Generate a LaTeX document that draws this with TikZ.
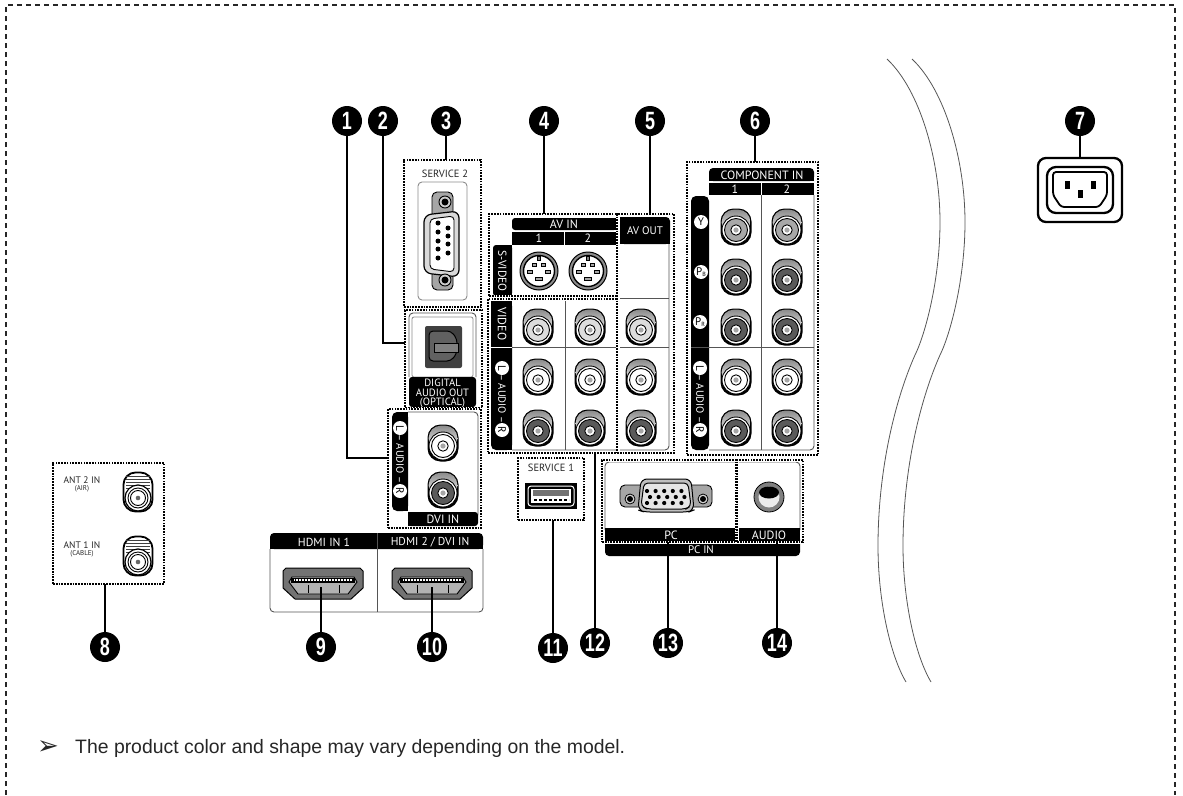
\documentclass[tikz,border=0pt]{standalone}
\usepackage{fontspec}
\setmainfont{PT Sans}
\newfontfamily\notefont{Liberation Sans}
\newfontfamily\tipfont{DejaVu Sans}
\newfontfamily\numfont[FakeStretch=.72]{Liberation Sans}
\usetikzlibrary{positioning}
\definecolor{videogray}{HTML}{DDDDDD}
\definecolor{ygray}{HTML}{A8A8A8}
\definecolor{rgray}{HTML}{5A5A5A}
\definecolor{linegray}{HTML}{555555}
\tikzset{
  numdot/.style={circle,fill=black,text=white,inner sep=0pt,minimum size=30,
    font=\numfont\bfseries\fontsize{25}{25}\selectfont},
  grpbox/.style={draw=black,line width=1.7,dash pattern=on 1.7 off 1.1,inner sep=0pt,outer sep=0pt,
    preaction={draw=white,line width=3,solid}},
  leadline/.style={draw=black,line width=1.6},
  panelline/.style={draw=linegray,line width=.9},
  barlabel/.style={text=white,inner sep=0pt,font=\fontsize{12}{12}\selectfont},
  sidelabel/.style={barlabel,rotate=-90},
  audiolabel/.style={sidelabel,font=\fontsize{10.5}{11}\selectfont},
  letterdot/.style={circle,fill=white,text=black,inner sep=0pt,minimum size=14,font=\fontsize{11}{11}\selectfont},
  porttext/.style={inner sep=0pt,text=black!85,font=\fontsize{10.5}{11}\selectfont},
  anttext/.style={inner sep=0pt,text=black!85,font=\fontsize{9.5}{10}\selectfont},
  smalltext/.style={inner sep=0pt,text=black!85,font=\fontsize{7}{8}\selectfont}
}
\newcommand{\grpnode}[5]{\node[grpbox,minimum width={#4-#2},minimum height={#5-#3}] (#1) at ({(#2+#4)/2},{(#3+#5)/2}) {};}
\newcommand{\rcajack}[3]{
  \begin{scope}[shift={(#1,#2)}]
    \fill[black,rounded corners=13] (-15.5,-18.5) rectangle (15.5,18.5);
    \shade[top color=black!45,bottom color=white,rounded corners=12] (-14.3,-17.3) rectangle (14.3,8);
    \draw[fill=white,line width=.9] (0,3) circle (14);
    \draw[fill=#3,line width=.9] (0,3) circle (11.5);
    \draw[fill=white,line width=.9] (0,3) circle (5.2);
    \fill[black!35] (0,3) circle (2.6);
  \end{scope}}
\newcommand{\svideo}[2]{
  \begin{scope}[shift={(#1,#2)}]
    \draw[fill=black!45,line width=1] (0,0) circle (19);
    \draw[fill=white,line width=1.4] (0,0) circle (15.5);
    \draw[fill=black!50,line width=.5] (-1.5,-15) rectangle (1.5,-11);
    \foreach \px/\py/\pw in {-4.5/-6/2,4.5/-6/2,-9/.7/2.5,8.5/.7/2.5,0/8/3.5}
      \draw[fill=black!35,line width=.8] ({\px-\pw},{\py-1.5}) rectangle ({\px+\pw},{\py+1.5});
  \end{scope}}
\newcommand{\antjack}[2]{
  \begin{scope}[shift={(#1,#2)}]
    \draw[fill=white,line width=1.8,rounded corners=12] (-14.5,-19.5) rectangle (14.5,19.5);
    \foreach \ty in {-16,-13,-10,-7,-4}
      \draw[black!75,line width=1] (-12,\ty) -- (12,\ty);
    \draw[fill=white,line width=1.2] (0,6) circle (13);
    \draw[line width=.9] (0,6) circle (10);
    \draw[line width=.9] (0,6) circle (7.5);
    \fill[black!60] (0,6) circle (2.3);
  \end{scope}}
\newcommand{\hdmiport}[2]{
  \begin{scope}[shift={(#1,#2)}]
    \draw[fill=black!55,line width=1] (0,3) -- (3,0) -- (77,0) -- (80,3) -- (80,20) -- (68,31) -- (12,31) -- (0,20) -- cycle;
    \draw[fill=black!30,line width=.9] (9,9) -- (71,9) -- (74,14) -- (65,26) -- (15,26) -- (6,14) -- cycle;
    \fill[black] (8,10) rectangle (72,14.5);
    \draw[white,line width=2.5,dash pattern=on .7 off .8] (11,12) -- (69,12);
    \draw[line width=.7] (25,17) -- (25,25);
    \draw[line width=.7] (56,17) -- (56,25);
  \end{scope}}
\begin{document}
\begin{tikzpicture}[x=1pt,y=-1pt]
  \useasboundingbox (0,0) rectangle (1183,795);
  \draw[line width=2,black!85,dash pattern=on 5 off 4] (6,795) -- (6,5) -- (1175,5) -- (1175,795);

  \foreach \dx in {0,25}
    \draw[linegray,line width=.8,xshift=\dx] (887,59) .. controls (920,90) and (940,160) .. (940,222) .. controls (940,280) and (925,335) .. (915,355) .. controls (895,400) and (878,470) .. (878,546) .. controls (878,600) and (890,655) .. (906,682);

  \node[porttext] (svctwotext) at (445,174) {SERVICE 2};
  \draw[panelline,black!45,rounded corners=4] (418,182) rectangle (467,300);
  \draw[fill=black!35,line width=.9,rounded corners=5] (432,192) rectangle (453,290);
  \draw[fill=black!15,line width=1.2,rounded corners=7] (424,215) -- (459,211) -- (459,277) -- (424,273) -- cycle;
  \draw[fill=white,line width=.9,rounded corners=4] (430,219) -- (454,216) -- (454,272) -- (430,269) -- cycle;
  \foreach \py in {223,232,241,249,258} \fill (438,\py) circle (2.5);
  \foreach \py in {228,236,244,253} \fill (448,\py) circle (2.5);
  \foreach \py in {202,280} {\draw[fill=black!20,line width=.9] (445,\py) circle (6); \fill (445,\py) circle (3.5);}

  \draw[panelline,rounded corners=4] (409,377) -- (409,313) -- (476,313) -- (476,377);
  \draw[black!45,line width=.8,rounded corners=2] (412,317) rectangle (473,377);
  \fill[black,rounded corners=3] (409,377) rectangle (476,407);
  \fill[black!75,rounded corners=2] (425,326) rectangle (462,368);
  \draw[fill=black!62,line width=1,rounded corners=4] (429,331) -- (451,331) -- (457,339) -- (457,353) -- (451,361) -- (429,361) -- cycle;
  \draw[fill=black!50,line width=1] (434,343) rectangle (458,352);
  \node[barlabel,font=\fontsize{10.6}{9.7}\selectfont,align=center] (opticaltext) at (442.5,393.5) {DIGITAL\\AUDIO OUT\\(OPTICAL)};

  \draw[panelline,rounded corners=4] (408,412) -- (478,412) -- (478,515);
  \fill[black,rounded corners=5] (392,412) rectangle (408,511);
  \fill[black] (400,412) rectangle (408,511);
  \fill[black,rounded corners=3] (408,512) rectangle (478,526);
  \fill[black] (408,512) rectangle (416,526);
  \node[barlabel] (dvitext) at (443,519.5) {DVI IN};
  \node[letterdot,rotate=-90] (dvil) at (400,428) {L};
  \node[audiolabel] (dviaudio) at (400,459) {-- AUDIO --};
  \node[letterdot,rotate=-90] (dvir) at (400,491) {R};
  \rcajack{443}{443}{white}
  \rcajack{443}{490}{rgray}

  \fill[black,rounded corners=3] (512,218) rectangle (617,230);
  \fill[black] (540,218) rectangle (617,230);
  \fill[black] (512,232) rectangle (563.5,244.5);
  \fill[black] (564.5,232) rectangle (617,244.5);
  \node[barlabel] (avintext) at (564,224) {AV IN};
  \node[barlabel] (avinone) at (539,238.5) {1};
  \node[barlabel] (avintwo) at (588,238.5) {2};
  \fill[black,rounded corners=3] (493,245) rectangle (512,296);
  \fill[black] (502,245) rectangle (512,296);
  \node[sidelabel,font=\fontsize{11.5}{12}\selectfont] (svideotext) at (502.5,271) {S-VIDEO};
  \svideo{539}{271}
  \svideo{588}{271}

  \fill[black,rounded corners=4] (620,217) rectangle (670,244);
  \fill[black] (620,217) rectangle (640,244);
  \fill[black] (620,230) rectangle (670,244);
  \node[barlabel,font=\fontsize{11}{11}\selectfont] (avouttext) at (645,231) {AV OUT};
  \draw[panelline,rounded corners=4] (669,244) -- (669,450) -- (512,450);
  \draw[panelline] (512,347) -- (669,347);
  \draw[panelline] (620,298) -- (669,298);
  \draw[panelline] (565,299) -- (565,450);
  \draw[panelline] (617,299) -- (617,450);
  \fill[black,rounded corners=5] (491,301) rectangle (512,450);
  \fill[black] (500,301) rectangle (512,450);
  \fill[black] (491,301) rectangle (512,310);
  \fill[white] (491,346.5) rectangle (512,347.5);
  \node[sidelabel] (videotext) at (502,324) {VIDEO};
  \node[letterdot,rotate=-90] (avl) at (502,368) {L};
  \node[audiolabel] (avaudio) at (502,399) {-- AUDIO --};
  \node[letterdot,rotate=-90] (avr) at (502,430) {R};
  \foreach \cx in {538,590,641} {
    \rcajack{\cx}{327}{videogray}
    \rcajack{\cx}{377}{white}
    \rcajack{\cx}{428}{rgray}
  }

  \fill[black,rounded corners=4] (709,168) rectangle (814,181);
  \fill[black] (709,176) rectangle (814,181);
  \fill[black] (709,183) rectangle (760.5,195);
  \fill[black] (761.5,183) rectangle (814,195);
  \node[barlabel] (compontext) at (762,175) {COMPONENT IN};
  \node[barlabel] (comonetext) at (735,189) {1};
  \node[barlabel] (comtwotext) at (787,189) {2};
  \fill[black,rounded corners=5] (691,196) rectangle (709,450);
  \draw[panelline,rounded corners=4] (814,195) -- (814,450) -- (709,450);
  \draw[panelline] (761,195) -- (761,450);
  \draw[panelline] (691,347) -- (814,347);
  \node[letterdot] (comy) at (701,222) {Y};
  \node[letterdot] (compb) at (701,272) {P\raisebox{-.2ex}{\fontsize{6}{6}\selectfont B}};
  \node[letterdot] (compr) at (700,322) {P\raisebox{-.2ex}{\fontsize{6}{6}\selectfont R}};
  \node[letterdot,rotate=-90] (coml) at (700,368) {L};
  \node[audiolabel] (comaudio) at (700,399) {-- AUDIO --};
  \node[letterdot,rotate=-90] (comr) at (700,430) {R};
  \foreach \cx in {736,787} {
    \rcajack{\cx}{227}{ygray}
    \rcajack{\cx}{277}{rgray}
    \rcajack{\cx}{327}{rgray}
    \rcajack{\cx}{377}{white}
    \rcajack{\cx}{428}{rgray}
  }

  \node[porttext] (svconetext) at (551,468) {SERVICE 1};
  \fill[black] (525,483) rectangle (577,509);
  \draw[white,line width=1,rounded corners=3] (528,486) rectangle (574,506);
  \fill[white] (531,489) rectangle (571,503);
  \fill[black!55] (533,490) rectangle (569,496);
  \draw[black,line width=1.6,dash pattern=on 3 off 2] (534,500) -- (569,500);

  \draw[panelline,rounded corners=4] (605,530) -- (605,462) -- (800,462) -- (800,530);
  \draw[panelline] (737,462) -- (737,530);
  \fill[black] (605,528) rectangle (800,545);
  \fill[black,rounded corners=4] (605,535) rectangle (800,556);
  \node[barlabel] (pctext) at (671,535) {PC};
  \node[barlabel] (pcaudiotext) at (769,535) {AUDIO};
  \node[barlabel,font=\fontsize{11}{11}\selectfont] (pcintext) at (701,550) {PC IN};
  \draw[fill=black!35,line width=.9,rounded corners=5] (620,485) rectangle (712,507);
  \foreach \sx in {630,703} {\draw[fill=black!15,line width=.8] (\sx,499) circle (5); \fill (\sx,499) circle (3);}
  \draw[fill=black!25,line width=1,rounded corners=6] (641,479) -- (691,479) -- (694,510) -- (689,512) -- (644,512) -- (638,510) -- cycle;
  \draw[fill=black!10,line width=1,rounded corners=4] (644,483) -- (688,483) -- (691,506) -- (686,509) -- (647,509) -- (641,506) -- cycle;
  \foreach \ix in {0,...,4} {
    \fill (647+\ix*8.6,491) circle (2.1);
    \fill (650+\ix*8.6,497) circle (2.1);
    \fill (647+\ix*8.6,503) circle (2.1);
  }
  \draw[fill=black!50,line width=.8] (769,497) circle (15);
  \fill[black!8] (769,497) circle (10.5);
  \fill[black] (769,492.5) ellipse (10 and 6);

  \draw[panelline,rounded corners=4] (270,549) -- (270,612) -- (483,612) -- (483,549);
  \fill[black,rounded corners=4] (270,533) rectangle (483,549);
  \fill[black] (270,541) rectangle (483,549);
  \draw[panelline] (377,533) -- (377,612);
  \node[barlabel,font=\fontsize{11.7}{12}\selectfont] (hdmionetext) at (324,542) {HDMI IN 1};
  \node[barlabel,font=\fontsize{11.5}{12}\selectfont] (hdmitwotext) at (430,542) {HDMI 2 / DVI IN};
  \hdmiport{283}{568}
  \hdmiport{392}{568}

  \node[anttext] (antonetext) at (82,480) {ANT 2 IN};
  \node[smalltext] (antairtext) at (82,489) {(AIR)};
  \node[anttext] (anttwotext) at (82,545) {ANT 1 IN};
  \node[smalltext] (antcabletext) at (82,554) {(CABLE)};
  \antjack{138}{492}
  \antjack{138}{556}

  \draw[fill=white,line width=2.3,rounded corners=8] (1038,158) rectangle (1122,222);
  \draw[line width=2.3,rounded corners=9] (1047,167) rectangle (1113,213);
  \draw[line width=1.8,rounded corners=3] (1053,172) -- (1107,172) -- (1107,195) -- (1099,207) -- (1061,207) -- (1053,195) -- cycle;
  \foreach \px/\py in {1067/185,1093/185,1080/194} \fill (\px-2.5,\py-4) rectangle (\px+2.5,\py+4);

  \grpnode{grpsvctwo}{404}{160}{481}{307}
  \grpnode{grpoptical}{405}{310}{482}{408}
  \grpnode{grpdvi}{388}{409}{481}{528}
  \grpnode{grpavin}{489}{214}{618}{296}
  \grpnode{grpavmain}{488}{299}{618}{453}
  \grpnode{grpavout}{617}{214}{674}{453}
  \grpnode{grpcompon}{687}{162}{818}{455}
  \grpnode{grpsvcone}{518}{458}{584}{520}
  \grpnode{grppc}{602}{460}{736}{542}
  \grpnode{grpaudio}{737}{460}{803}{542}
  \grpnode{grpant}{53}{463}{164}{584}

  \node[numdot] (numone) at (347,121) {1};
  \node[numdot] (numtwo) at (383,121) {2};
  \node[numdot] (numthree) at (446,121) {3};
  \node[numdot] (numfour) at (544,121) {4};
  \node[numdot] (numfive) at (650,121) {5};
  \node[numdot] (numsix) at (755,121) {6};
  \node[numdot] (numseven) at (1080,121) {7};
  \node[numdot] (numeight) at (105,647) {8};
  \node[numdot] (numnine) at (321,647) {9};
  \node[numdot] (numten) at (432,647) {10};
  \node[numdot] (numeleven) at (553,648) {11};
  \node[numdot] (numtwelve) at (595,643) {12};
  \node[numdot] (numthirteen) at (668,643) {13};
  \node[numdot] (numfourteen) at (777,643) {14};

  \coordinate (leadone) at (388,458);
  \coordinate (leadtwo) at (405,343);
  \coordinate (leadseven) at (1080,158);
  \coordinate (leadnine) at (321,587);
  \coordinate (leadten) at (432,587);
  \draw[leadline] (numone) |- (leadone);
  \draw[leadline] (numtwo) |- (leadtwo);
  \draw[leadline] (numthree) -- (numthree |- grpsvctwo.north);
  \draw[leadline] (numfour) -- (numfour |- grpavin.north);
  \draw[leadline] (numfive) -- (numfive |- grpavout.north);
  \draw[leadline] (numsix) -- (numsix |- grpcompon.north);
  \draw[leadline] (numseven) -- (leadseven);
  \draw[leadline] (numeight) -- (numeight |- grpant.south);
  \draw[leadline] (numnine) -- (leadnine);
  \draw[leadline] (numten) -- (leadten);
  \draw[leadline] (numeleven) -- (numeleven |- grpsvcone.south);
  \draw[leadline] (numtwelve) -- (numtwelve |- grpavmain.south);
  \draw[leadline] (numthirteen) -- (numthirteen |- grppc.south);
  \draw[leadline] (numfourteen) -- (numfourteen |- grpaudio.south);

  \node[inner sep=0pt,text=black!85] (tiparrow) at (48,748) {\tipfont\fontsize{26}{26}\selectfont ➢};
  \node[inner sep=0pt,anchor=west,text=black!85,font=\notefont\fontsize{19.4}{20}\selectfont] (notetext) at (75,748) {The product color and shape may vary depending on the model.};
\end{tikzpicture}
\end{document}
